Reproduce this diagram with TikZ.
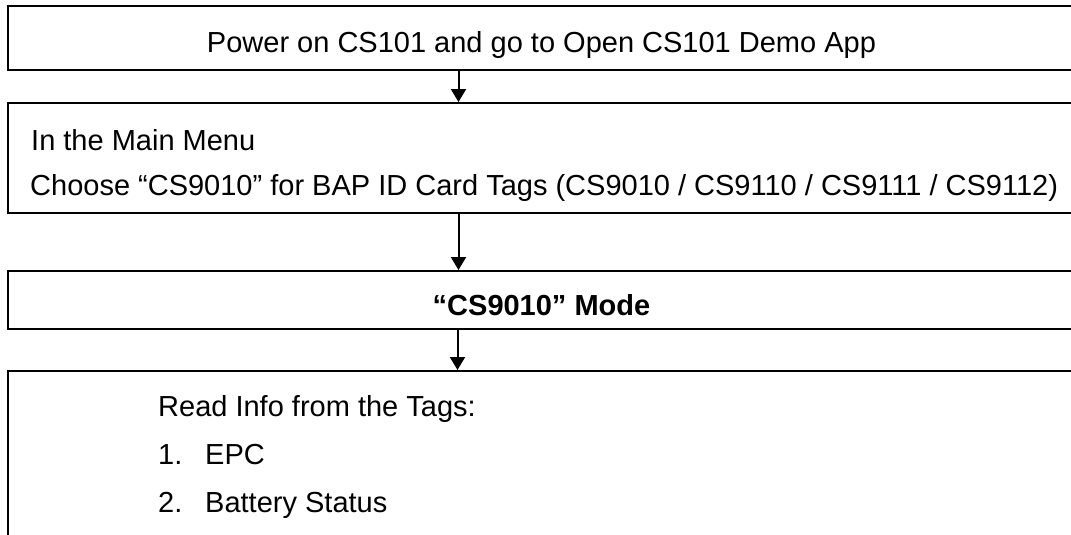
\documentclass[tikz,border=0pt]{standalone}
\usepackage{fontspec}
\setmainfont{Liberation Sans}
\usetikzlibrary{arrows.meta, positioning}
\tikzstyle{frame} = [rectangle, draw=black, line width=2pt, minimum width=1067pt, inner sep=0pt]
\tikzstyle{txt}   = [inner sep=0pt, font=\fontsize{29}{34}\selectfont]
\tikzstyle{arrow} = [line width=2pt, -{Triangle[width=15pt,length=13pt]}]

\begin{document}
\begin{tikzpicture}[x=1pt, y=-1pt]
  \clip (0,0) rectangle (1071,535);

  \node[frame, minimum height=64pt]  (p1) at (541.5,38)  {};
  \node[frame, minimum height=110pt] (p2) at (541.5,158) {};
  \node[frame, minimum height=58pt]  (p3) at (541.5,300) {};
  \node[frame, minimum height=240pt] (p4) at (541.5,491) {};

  \node[txt, anchor=base] (t1) at (541.5,53) {Power on CS101 and go to Open CS101 Demo App};
  \node[txt, anchor=base west] (t2) at (31,150) {In the Main Menu};
  \node[txt, anchor=base west] (t3) at (30,195) {Choose “CS9010” for BAP ID Card Tags (CS9010 / CS9110 / CS9111 / CS9112)};
  \node[txt, anchor=base, font=\fontsize{29}{34}\selectfont\bfseries] (t4) at (541.5,315) {“CS9010” Mode};
  \node[txt, anchor=base west] (t5) at (158,416) {Read Info from the Tags:};
  \node[txt, anchor=base west] (t6) at (158,464) {\makebox[47pt][l]{1.}EPC};
  \node[txt, anchor=base west] (t7) at (158,512) {\makebox[47pt][l]{2.}Battery Status};

  \draw[arrow] ([xshift=-83pt]p1.south) -- ([xshift=-83pt]p2.north);
  \draw[arrow] ([xshift=-83pt]p2.south) -- ([xshift=-83pt]p3.north);
  \draw[arrow] ([xshift=-84pt]p3.south) -- ([xshift=-84pt]p4.north);
\end{tikzpicture}
\end{document}
